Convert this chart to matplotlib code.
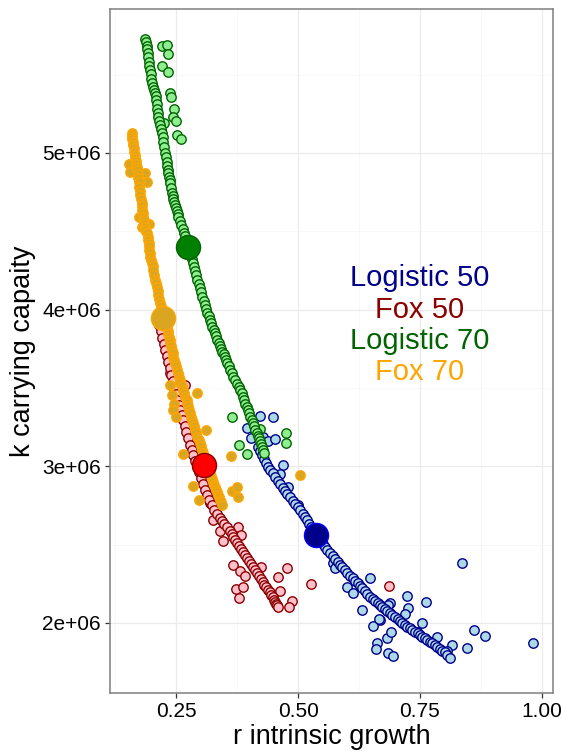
import numpy as np
import matplotlib
matplotlib.use("Agg")
import matplotlib.pyplot as plt
from matplotlib.ticker import FuncFormatter, MultipleLocator

plt.rcParams['font.family'] = ['Liberation Sans', 'DejaVu Sans']

# --- data (r, k in millions) ---
# Logistic 50
log50_curve_r = [0.418, 0.422, 0.426, 0.430, 0.434, 0.438, 0.443, 0.448, 0.453, 0.458,
                 0.463, 0.468, 0.473, 0.478, 0.484, 0.489, 0.494, 0.499, 0.504, 0.509,
                 0.514, 0.518, 0.523, 0.527, 0.531, 0.535, 0.539, 0.543, 0.547, 0.551,
                 0.555, 0.560, 0.566, 0.571, 0.576, 0.581, 0.586, 0.591, 0.596, 0.601,
                 0.607, 0.612, 0.617, 0.622, 0.627, 0.632, 0.637, 0.642, 0.648, 0.653,
                 0.658, 0.663, 0.668, 0.673, 0.678, 0.683, 0.688, 0.693, 0.699, 0.704,
                 0.709, 0.714, 0.719, 0.724, 0.729, 0.734, 0.740, 0.745, 0.750, 0.755,
                 0.760, 0.765, 0.770, 0.775, 0.781, 0.786, 0.791, 0.796, 0.801, 0.806,
                 0.811]
log50_curve_k = [3.123, 3.097, 3.072, 3.046, 3.021, 2.998, 2.976, 2.954, 2.932, 2.909,
                 2.887, 2.864, 2.842, 2.823, 2.804, 2.781, 2.759, 2.740, 2.721, 2.698,
                 2.676, 2.654, 2.632, 2.613, 2.594, 2.574, 2.555, 2.536, 2.517, 2.501,
                 2.485, 2.466, 2.447, 2.427, 2.408, 2.389, 2.370, 2.354, 2.338, 2.319,
                 2.300, 2.284, 2.268, 2.252, 2.236, 2.220, 2.204, 2.185, 2.166, 2.153,
                 2.140, 2.127, 2.115, 2.102, 2.089, 2.076, 2.064, 2.051, 2.038, 2.025,
                 2.013, 2.000, 1.987, 1.977, 1.968, 1.955, 1.943, 1.933, 1.923, 1.913,
                 1.904, 1.891, 1.879, 1.869, 1.860, 1.847, 1.834, 1.824, 1.815, 1.796,
                 1.777]
log50_scat_r = [0.422, 0.449, 0.395, 0.404, 0.428, 0.439, 0.453, 0.469, 0.463, 0.479,
                0.500, 0.572, 0.600, 0.648, 0.631, 0.668, 0.688, 0.576, 0.613, 0.654,
                0.666, 0.662, 0.660, 0.684, 0.695, 0.682, 0.690, 0.723, 0.725, 0.719,
                0.762, 0.754, 0.744, 0.785, 0.816, 0.805, 0.846, 0.861, 0.883, 0.836,
                0.982, 0.684]
log50_scat_k = [3.321, 3.315, 3.245, 3.181, 3.187, 3.162, 3.174, 3.008, 2.951, 2.868,
                2.753, 2.383, 2.230, 2.287, 2.083, 2.019, 2.128, 2.351, 2.191, 1.981,
                2.026, 1.872, 1.834, 1.809, 1.789, 1.904, 1.943, 2.172, 2.096, 2.057,
                2.134, 2.000, 1.943, 1.911, 1.860, 1.821, 1.840, 1.955, 1.917, 2.383,
                1.872, 2.115]
log50_best = (0.537, 2.562)

# Fox 50
fox50_curve_r = [0.215, 0.218, 0.221, 0.224, 0.227, 0.230, 0.234, 0.237, 0.240, 0.243,
                 0.246, 0.249, 0.252, 0.255, 0.258, 0.261, 0.264, 0.267, 0.270, 0.275,
                 0.279, 0.282, 0.285, 0.289, 0.293, 0.297, 0.301, 0.305, 0.309, 0.314,
                 0.318, 0.323, 0.328, 0.334, 0.340, 0.344, 0.348, 0.355, 0.361, 0.364,
                 0.367, 0.371, 0.375, 0.379, 0.383, 0.387, 0.391, 0.396, 0.400, 0.404,
                 0.408, 0.412, 0.416, 0.420, 0.424, 0.427, 0.430, 0.435, 0.439, 0.442,
                 0.445, 0.448, 0.451, 0.453, 0.455, 0.457, 0.459]
fox50_curve_k = [3.902, 3.861, 3.819, 3.781, 3.742, 3.704, 3.666, 3.625, 3.583, 3.542,
                 3.500, 3.462, 3.423, 3.391, 3.359, 3.328, 3.296, 3.258, 3.219, 3.178,
                 3.136, 3.104, 3.072, 3.034, 2.996, 2.961, 2.925, 2.887, 2.849, 2.817,
                 2.785, 2.753, 2.721, 2.696, 2.670, 2.651, 2.632, 2.610, 2.587, 2.568,
                 2.549, 2.530, 2.511, 2.492, 2.472, 2.453, 2.434, 2.415, 2.396, 2.377,
                 2.357, 2.338, 2.319, 2.300, 2.281, 2.262, 2.243, 2.227, 2.211, 2.195,
                 2.179, 2.163, 2.147, 2.134, 2.121, 2.112, 2.102]
fox50_scat_r = [0.316, 0.320, 0.326, 0.340, 0.346, 0.377, 0.383, 0.367, 0.381, 0.391,
                0.424, 0.477, 0.459, 0.373, 0.387, 0.379, 0.463, 0.488, 0.482, 0.527,
                0.686, 0.268, 0.238]
fox50_scat_k = [2.830, 2.766, 2.657, 2.587, 2.523, 2.613, 2.562, 2.370, 2.332, 2.300,
                2.357, 2.351, 2.294, 2.217, 2.230, 2.160, 2.204, 2.140, 2.102, 2.249,
                2.236, 3.519, 3.596]
fox50_best = (0.307, 3.008)

# Logistic 70
log70_curve_r = [0.186, 0.188, 0.189, 0.190, 0.191, 0.192, 0.193, 0.195, 0.197, 0.198,
                 0.199, 0.201, 0.203, 0.205, 0.207, 0.208, 0.209, 0.210, 0.211, 0.212,
                 0.213, 0.215, 0.217, 0.219, 0.221, 0.222, 0.223, 0.225, 0.227, 0.229,
                 0.230, 0.231, 0.232, 0.234, 0.236, 0.237, 0.238, 0.240, 0.242, 0.243,
                 0.244, 0.246, 0.248, 0.250, 0.252, 0.253, 0.254, 0.257, 0.260, 0.263,
                 0.266, 0.268, 0.270, 0.273, 0.275, 0.277, 0.279, 0.282, 0.285, 0.287,
                 0.289, 0.291, 0.293, 0.296, 0.299, 0.301, 0.303, 0.306, 0.309, 0.312,
                 0.314, 0.317, 0.320, 0.322, 0.324, 0.327, 0.330, 0.332, 0.334, 0.337,
                 0.340, 0.342, 0.344, 0.347, 0.350, 0.353, 0.355, 0.358, 0.361, 0.364,
                 0.367, 0.371, 0.375, 0.378, 0.381, 0.384, 0.387, 0.389, 0.391, 0.395,
                 0.398, 0.400, 0.402, 0.405, 0.408, 0.410, 0.412, 0.415, 0.418, 0.420,
                 0.422, 0.424, 0.426, 0.428, 0.430]
log70_curve_k = [5.727, 5.705, 5.682, 5.660, 5.638, 5.609, 5.580, 5.555, 5.529, 5.501,
                 5.472, 5.447, 5.421, 5.402, 5.382, 5.360, 5.338, 5.309, 5.280, 5.255,
                 5.229, 5.204, 5.178, 5.153, 5.127, 5.099, 5.070, 5.035, 5.000, 4.972,
                 4.943, 4.917, 4.891, 4.869, 4.846, 4.827, 4.808, 4.776, 4.744, 4.725,
                 4.706, 4.687, 4.668, 4.649, 4.629, 4.610, 4.591, 4.566, 4.540, 4.515,
                 4.489, 4.467, 4.444, 4.422, 4.400, 4.375, 4.349, 4.324, 4.298, 4.272,
                 4.246, 4.218, 4.189, 4.164, 4.138, 4.110, 4.081, 4.055, 4.029, 4.004,
                 3.978, 3.956, 3.934, 3.912, 3.889, 3.870, 3.851, 3.829, 3.806, 3.787,
                 3.768, 3.749, 3.730, 3.714, 3.698, 3.679, 3.659, 3.637, 3.615, 3.593,
                 3.570, 3.548, 3.525, 3.506, 3.487, 3.465, 3.442, 3.420, 3.398, 3.379,
                 3.359, 3.337, 3.315, 3.296, 3.276, 3.254, 3.232, 3.213, 3.193, 3.178,
                 3.162, 3.143, 3.123, 3.104, 3.085]
log70_scat_r = [0.221, 0.230, 0.234, 0.221, 0.234, 0.238, 0.240, 0.246, 0.244, 0.250,
                0.225, 0.252, 0.260, 0.365, 0.379, 0.395, 0.422, 0.475, 0.475]
log70_scat_k = [5.682, 5.689, 5.631, 5.555, 5.516, 5.382, 5.357, 5.280, 5.229, 5.204,
                5.191, 5.114, 5.089, 3.315, 3.136, 3.079, 3.238, 3.213, 3.149]
log70_best = (0.275, 4.400)

# Fox 70
fox70_curve_r = [0.160, 0.160, 0.160, 0.161, 0.162, 0.163, 0.164, 0.165, 0.166, 0.167,
                 0.168, 0.169, 0.170, 0.171, 0.172, 0.173, 0.174, 0.175, 0.176, 0.178,
                 0.180, 0.180, 0.180, 0.181, 0.182, 0.183, 0.184, 0.185, 0.186, 0.189,
                 0.191, 0.192, 0.193, 0.194, 0.195, 0.196, 0.197, 0.199, 0.201, 0.202,
                 0.203, 0.205, 0.207, 0.209, 0.211, 0.212, 0.213, 0.215, 0.217, 0.219,
                 0.221, 0.222, 0.223, 0.225, 0.227, 0.230, 0.232, 0.234, 0.236, 0.237,
                 0.238, 0.240, 0.242, 0.243, 0.244, 0.246, 0.248, 0.250, 0.252, 0.254,
                 0.256, 0.257, 0.258, 0.261, 0.264, 0.266, 0.268, 0.271, 0.273, 0.275,
                 0.277, 0.279, 0.281, 0.283, 0.285, 0.287, 0.289, 0.291, 0.293, 0.296,
                 0.299, 0.301, 0.303, 0.305, 0.307, 0.309, 0.311, 0.314, 0.316, 0.318,
                 0.320, 0.322, 0.324, 0.326, 0.328, 0.330, 0.332, 0.334, 0.336, 0.338,
                 0.340, 0.342, 0.344]
fox70_curve_k = [5.127, 5.108, 5.089, 5.070, 5.051, 5.029, 5.006, 4.987, 4.968, 4.949,
                 4.929, 4.910, 4.891, 4.866, 4.840, 4.812, 4.783, 4.757, 4.731, 4.706,
                 4.680, 4.658, 4.636, 4.614, 4.591, 4.569, 4.546, 4.527, 4.508, 4.486,
                 4.463, 4.444, 4.425, 4.403, 4.380, 4.358, 4.336, 4.317, 4.298, 4.276,
                 4.253, 4.221, 4.189, 4.167, 4.144, 4.119, 4.093, 4.068, 4.042, 4.020,
                 3.998, 3.972, 3.946, 3.924, 3.902, 3.883, 3.864, 3.845, 3.825, 3.806,
                 3.787, 3.765, 3.742, 3.720, 3.698, 3.679, 3.659, 3.637, 3.615, 3.593,
                 3.570, 3.551, 3.532, 3.510, 3.487, 3.465, 3.442, 3.423, 3.404, 3.382,
                 3.359, 3.337, 3.315, 3.296, 3.276, 3.254, 3.232, 3.210, 3.187, 3.168,
                 3.149, 3.127, 3.104, 3.085, 3.066, 3.047, 3.028, 3.012, 2.996, 2.977,
                 2.957, 2.938, 2.919, 2.900, 2.881, 2.865, 2.849, 2.833, 2.817, 2.801,
                 2.785, 2.769, 2.753]
fox70_scat_r = [0.152, 0.156, 0.172, 0.186, 0.189, 0.174, 0.193, 0.180, 0.238, 0.242,
                0.246, 0.244, 0.250, 0.293, 0.311, 0.264, 0.363, 0.285, 0.297, 0.365,
                0.375, 0.377, 0.504]
fox70_scat_k = [4.929, 4.878, 4.878, 4.872, 4.814, 4.591, 4.546, 4.527, 3.519, 3.455,
                3.398, 3.359, 3.315, 3.468, 3.232, 3.079, 3.066, 2.874, 2.785, 2.842,
                2.868, 2.804, 2.945]
fox70_best = (0.223, 3.946)

labels = ["Logistic 50", "Fox 50", "Logistic 70", "Fox 70"]
x_ticks = [0.25, 0.50, 0.75, 1.00]
y_ticks = [2e6, 3e6, 4e6, 5e6]

# style per series: fill, edge, best fill, best edge, text colour
styles = [
    ("#ADD8E6", "#00008B", "#00008B", "#0000FF", "#00008B"),
    ("#FFC0CB", "#8B0000", "#FF0000", "#8B0000", "#8B0000"),
    ("#90EE90", "#006400", "#008000", "#006400", "#006400"),
    ("#DAA520", "#FFA500", "#DAA520", "#FFA500", "#FFA500"),
]
groups = [
    (log50_curve_r, log50_curve_k, log50_scat_r, log50_scat_k, log50_best),
    (fox50_curve_r, fox50_curve_k, fox50_scat_r, fox50_scat_k, fox50_best),
    (log70_curve_r, log70_curve_k, log70_scat_r, log70_scat_k, log70_best),
    (fox70_curve_r, fox70_curve_k, fox70_scat_r, fox70_scat_k, fox70_best),
]

fig = plt.figure(figsize=(5.62, 7.51), dpi=100)
ax = fig.add_axes([110 / 562, 58 / 751, 443 / 562, 684 / 751])

for i, ((cr, ck, sr, sk, best), st) in enumerate(zip(groups, styles)):
    fill, edge = st[0], st[1]
    r = np.array(sr + cr)
    k = np.array(sk + ck) * 1e6
    ax.scatter(r, k, s=46, facecolor=fill, edgecolor=edge, linewidths=1.0, zorder=3 + i)

for i, ((cr, ck, sr, sk, best), st) in enumerate(zip(groups, styles)):
    ax.scatter([best[0]], [best[1] * 1e6], s=300, facecolor=st[2], edgecolor=st[3],
               linewidths=1.0, zorder=10)

# text labels
text_y = [4.2e6, 4.0e6, 3.8e6, 3.6e6]
for lab, ty, st in zip(labels, text_y, styles):
    ax.text(0.75, ty, lab, color=st[4], fontsize=21, ha="center", va="center", zorder=12)

ax.set_xlim(0.114, 1.023)
ax.set_ylim(1.553e6, 5.918e6)
ax.set_xticks(x_ticks)
ax.set_yticks(y_ticks)
ax.xaxis.set_major_formatter(FuncFormatter(lambda v, p: f"{v:.2f}"))
ax.yaxis.set_major_formatter(FuncFormatter(lambda v, p: f"{v / 1e6:.0f}e+06"))
ax.xaxis.set_minor_locator(MultipleLocator(0.125))
ax.yaxis.set_minor_locator(MultipleLocator(0.5e6))

ax.set_axisbelow(True)
ax.grid(which="major", color="#EBEBEB", linewidth=0.9)
ax.grid(which="minor", color="#F5F5F5", linewidth=0.5)
ax.tick_params(which="minor", length=0)
ax.tick_params(which="major", length=3.6, width=0.9, color="#333333",
               labelsize=15, labelcolor="black", pad=3)
for sp in ax.spines.values():
    sp.set_color("#7F7F7F")
    sp.set_linewidth(1.1)

ax.set_xlabel("r intrinsic growth", fontsize=19.5)
ax.set_ylabel("k carrying capaity", fontsize=19.5)
ax.xaxis.set_label_coords(0.5, -0.046)
ax.yaxis.set_label_coords(-0.167, 0.5)

fig.savefig("out.png", dpi=100)
